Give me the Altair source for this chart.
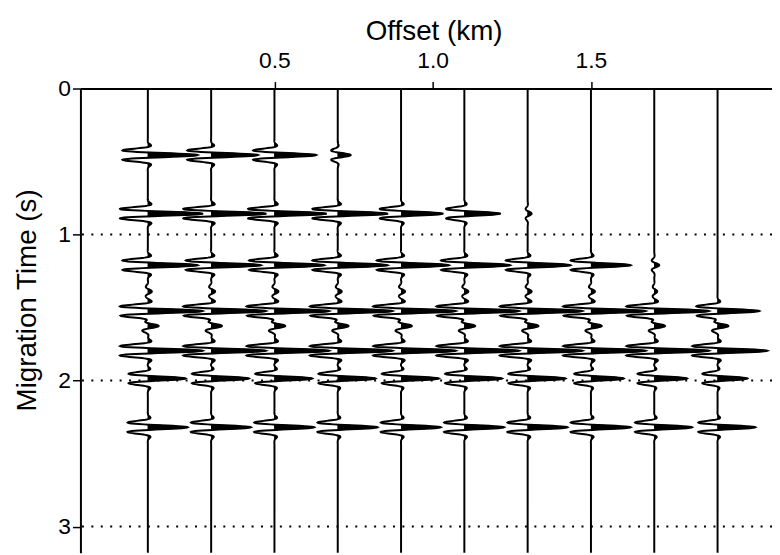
import math
import altair as alt
import pandas as pd

# ---- data ----
OFFSETS = [0.1, 0.3, 0.5, 0.7, 0.9, 1.1, 1.3, 1.5, 1.7, 1.9]          # trace offsets (km)
EVENT_TIMES = [0.456, 0.857, 1.21, 1.39, 1.524, 1.626, 1.796, 1.986, 2.32]  # reflection times (s)
# relative amplitude of each event on each trace (1.0 = strongest)
AMP_E1 = [1.00, 0.94, 0.84, 0.26, 0, 0, 0, 0, 0, 0]
AMP_E2 = [1.10, 1.10, 1.04, 1.00, 0.84, 0.72, 0.08, 0, 0, 0]
AMP_E3 = [1.00, 1.00, 1.00, 1.00, 0.96, 0.92, 0.86, 0.80, 0.10, 0]
AMP_E3B = [0.08, 0.08, 0.08, 0.08, 0.08, 0.08, 0.08, 0.08, 0.06, 0]
AMP_E4 = [1.10, 1.10, 1.10, 1.10, 1.10, 1.10, 1.10, 1.10, 1.10, 0.84]
AMP_E4B = [0.22, 0.22, 0.22, 0.22, 0.22, 0.22, 0.22, 0.22, 0.22, 0.22]
AMP_E5 = [1.10, 1.10, 1.10, 1.10, 1.10, 1.10, 1.10, 1.10, 1.10, 1.00]
AMP_E6 = [0.76, 0.76, 0.76, 0.76, 0.76, 0.76, 0.76, 0.66, 0.66, 0.60]
AMP_E7 = [0.80, 0.80, 0.80, 0.80, 0.80, 0.80, 0.80, 0.80, 0.76, 0.76]
AMPS = [AMP_E1, AMP_E2, AMP_E3, AMP_E3B, AMP_E4, AMP_E4B, AMP_E5, AMP_E6, AMP_E7]

X_TICKS = [0.5, 1.0, 1.5]
Y_TICKS = [0, 1, 2, 3]
GRID_TIMES = [1, 2, 3]

# display parameters for the wiggle plot
GAIN = 0.157      # km of deflection per unit amplitude
FREQ = 13.5       # wavelet dominant frequency (Hz)
SIGMA = 0.042     # wavelet envelope width (s)
T_END = 3.2
DT = 0.002

traces = pd.DataFrame({"offset": OFFSETS})
for i, a in enumerate(AMPS):
    traces[f"a{i}"] = a


def wavelet(t0):
    w = 2 * math.pi * FREQ
    return (f"cos({w:.5f}*(datum.t-{t0}))"
            f"*exp(-pow((datum.t-{t0})/{SIGMA},2))")


sum_expr = " + ".join(f"datum.a{i}*{wavelet(t0)}" for i, t0 in enumerate(EVENT_TIMES))
v_expr = f"datum.offset + {GAIN}*({sum_expr})"

FONT = "Liberation Sans"
xscale = alt.Scale(domain=[-0.113, 2.072], nice=False, zero=False)
yscale = alt.Scale(domain=[0, 3.18], nice=False, zero=False, reverse=True)

base = (
    alt.Chart(traces)
    .transform_calculate(t=f"sequence(0, {T_END}, {DT})")
    .transform_flatten(["t"])
    .transform_calculate(v=v_expr)
)

xaxis = alt.Axis(
    orient="top", values=X_TICKS, format=".1f", title="Offset (km)",
    labelFont=FONT, labelFontSize=23, labelColor="black", labelPadding=9,
    tickSize=7, tickWidth=1.5, tickColor="black",
    domainWidth=2, domainColor="black", grid=False,
    titleFont=FONT, titleFontSize=28, titleFontWeight="normal", titleColor="black",
    titlePadding=4, titleX=356,
)
yaxis = alt.Axis(
    orient="left", values=Y_TICKS, format="d", title="Migration Time (s)",
    labelFont=FONT, labelFontSize=23, labelColor="black", labelPadding=2,
    tickSize=8, tickWidth=1.5, tickColor="black",
    domainWidth=2, domainColor="black", grid=False,
    titleFont=FONT, titleFontSize=28, titleFontWeight="normal", titleColor="black",
    titleX=-53, titleY=213, titleBaseline="middle",
)

line = base.mark_line(color="black", strokeWidth=2, clip=True).encode(
    x=alt.X("v:Q", scale=xscale, axis=xaxis),
    y=alt.Y("t:Q", scale=yscale, axis=yaxis),
    detail="offset:N",
    order="t:Q",
)

# variable-area fill of the positive lobes, drawn as dense horizontal strokes
fill = base.transform_filter("datum.v > datum.offset + 0.0005").mark_rule(
    color="black", strokeWidth=1, clip=True
).encode(
    x=alt.X("offset:Q", scale=xscale, axis=xaxis),
    x2="v:Q",
    y=alt.Y("t:Q", scale=yscale, axis=yaxis),
)

grid = alt.Chart(pd.DataFrame({"t": GRID_TIMES})).mark_rule(
    color="black", strokeDash=[2, 7.5], strokeWidth=2
).encode(y=alt.Y("t:Q", scale=yscale, axis=yaxis))

chart = (
    alt.layer(line, fill, grid)
    .properties(
        width=697, height=468,
        padding={"left": 73, "top": 79, "right": 0, "bottom": 0},
        autosize=alt.AutoSizeParams(type="none"),
        background="white",
    )
    .configure_view(strokeWidth=0)
)

chart.save("out.html", embed_options={"renderer": "svg", "actions": False})
